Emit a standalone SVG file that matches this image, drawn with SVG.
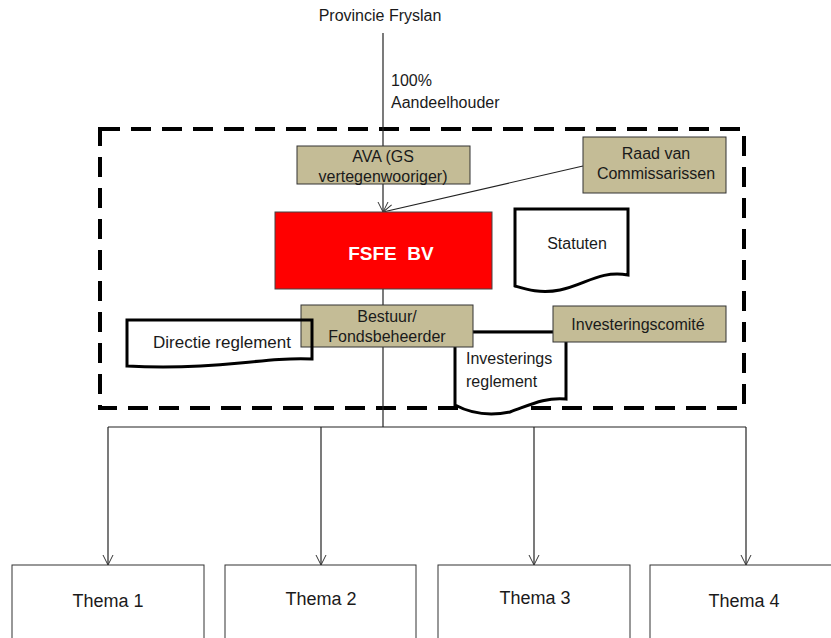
<svg xmlns="http://www.w3.org/2000/svg" width="831" height="638" viewBox="0 0 831 638">
<defs>
<marker id="open" viewBox="0 0 12 12" refX="11" refY="6" markerWidth="12" markerHeight="12" markerUnits="userSpaceOnUse" orient="auto">
<path d="M1,1 L11,6 L1,11" fill="none" stroke="#333" stroke-width="1"/>
</marker>
<style>
text{font-family:"Liberation Sans",Arial,sans-serif;font-size:16px;fill:#1a1a1a}
.c{text-anchor:middle}
.tan{fill:#C4BC96;stroke:#333;stroke-width:1}
.doc{fill:none;stroke:#000;stroke-width:3}
.ln{fill:none;stroke:#222;stroke-width:1.2}
.th{fill:#fff;stroke:#333;stroke-width:1}
.tht{font-size:18px;text-anchor:middle}
</style>
</defs>
<rect width="831" height="638" fill="#fff"/>
<rect id="frame" x="100" y="129" width="644" height="279" fill="none" stroke="#000" stroke-width="4" stroke-dasharray="20,11"/>
<g id="connectors">
<line class="ln" x1="383" y1="33" x2="383" y2="147"/>
<line class="ln" x1="383" y1="184" x2="383" y2="212" marker-end="url(#open)"/>
<line class="ln" x1="583" y1="166" x2="383" y2="212" stroke-width="1" marker-end="url(#open)"/>
<line class="ln" x1="383" y1="289" x2="383" y2="305"/>
<line class="ln" x1="383" y1="347" x2="383" y2="427"/>
<line x1="473" y1="332" x2="553" y2="332" stroke="#000" stroke-width="2.5"/>
<line class="ln" x1="108" y1="427" x2="746" y2="427" stroke="#555"/>
<line class="ln" x1="108" y1="427" x2="108" y2="565" marker-end="url(#open)"/>
<line class="ln" x1="321" y1="427" x2="321" y2="565" marker-end="url(#open)"/>
<line class="ln" x1="534" y1="427" x2="534" y2="565" marker-end="url(#open)"/>
<line class="ln" x1="746" y1="427" x2="746" y2="565" marker-end="url(#open)"/>
</g>
<text id="provincie" x="380" y="21" class="c">Provincie Fryslan</text>
<g id="label-aandeel">
<text x="391" y="86">100%</text>
<text x="391" y="108">Aandeelhouder</text>
</g>
<g id="ava">
<rect class="tan" x="297" y="146" width="173" height="38"/>
<text x="383" y="162" class="c">AVA (GS</text>
<text x="383" y="182" class="c">vertegenwooriger)</text>
</g>
<g id="raad">
<rect class="tan" x="583" y="137" width="143" height="56"/>
<text x="656" y="159" class="c">Raad van</text>
<text x="656" y="179" class="c">Commissarissen</text>
</g>
<g id="fsfe">
<rect x="275" y="212" width="217" height="77" fill="#FF0000" stroke="#444" stroke-width="1"/>
<text x="391" y="260" class="c" style="fill:#fff;font-weight:bold;font-size:19px;white-space:pre">FSFE  BV</text>
</g>
<g id="statuten">
<path class="doc" d="M515,209 L628,209 L628,275 C600,270 585,285 560,290 C540,294 525,289 515,286 Z" style="fill:#fff"/>
<text x="577" y="249" class="c">Statuten</text>
</g>
<g id="investreg">
<path class="doc" style="fill:#fff" d="M455,332 L566,332 L566,399 C545,397 530,405 510,412 C490,416 470,413 455,405 Z"/>
<text x="466" y="364">Investerings</text>
<text x="466" y="387">reglement</text>
</g>
<g id="bestuur">
<rect class="tan" x="301" y="305" width="172" height="42"/>
<text x="387" y="322" class="c">Bestuur/</text>
<text x="387" y="342" class="c">Fondsbeheerder</text>
</g>
<g id="directie">
<path class="doc" d="M127,320 L312,320 L312,359 C290,358 270,360 240,363 C200,367 160,368 127,366 Z"/>
<text x="222" y="348" class="c" style="font-size:17px">Directie reglement</text>
</g>
<g id="invcomite">
<rect class="tan" x="553" y="306" width="173" height="36"/>
<text x="638" y="330" class="c">Investeringscomité</text>
</g>
<g id="thema1"><rect class="th" x="12" y="565" width="192" height="80"/><text x="108" y="607" class="tht">Thema 1</text></g>
<g id="thema2"><rect class="th" x="225" y="565" width="191" height="80"/><text x="321" y="605" class="tht">Thema 2</text></g>
<g id="thema3"><rect class="th" x="438" y="565" width="192" height="80"/><text x="535" y="604" class="tht">Thema 3</text></g>
<g id="thema4"><rect class="th" x="650" y="565" width="190" height="80"/><text x="744" y="607" class="tht">Thema 4</text></g>
</svg>
